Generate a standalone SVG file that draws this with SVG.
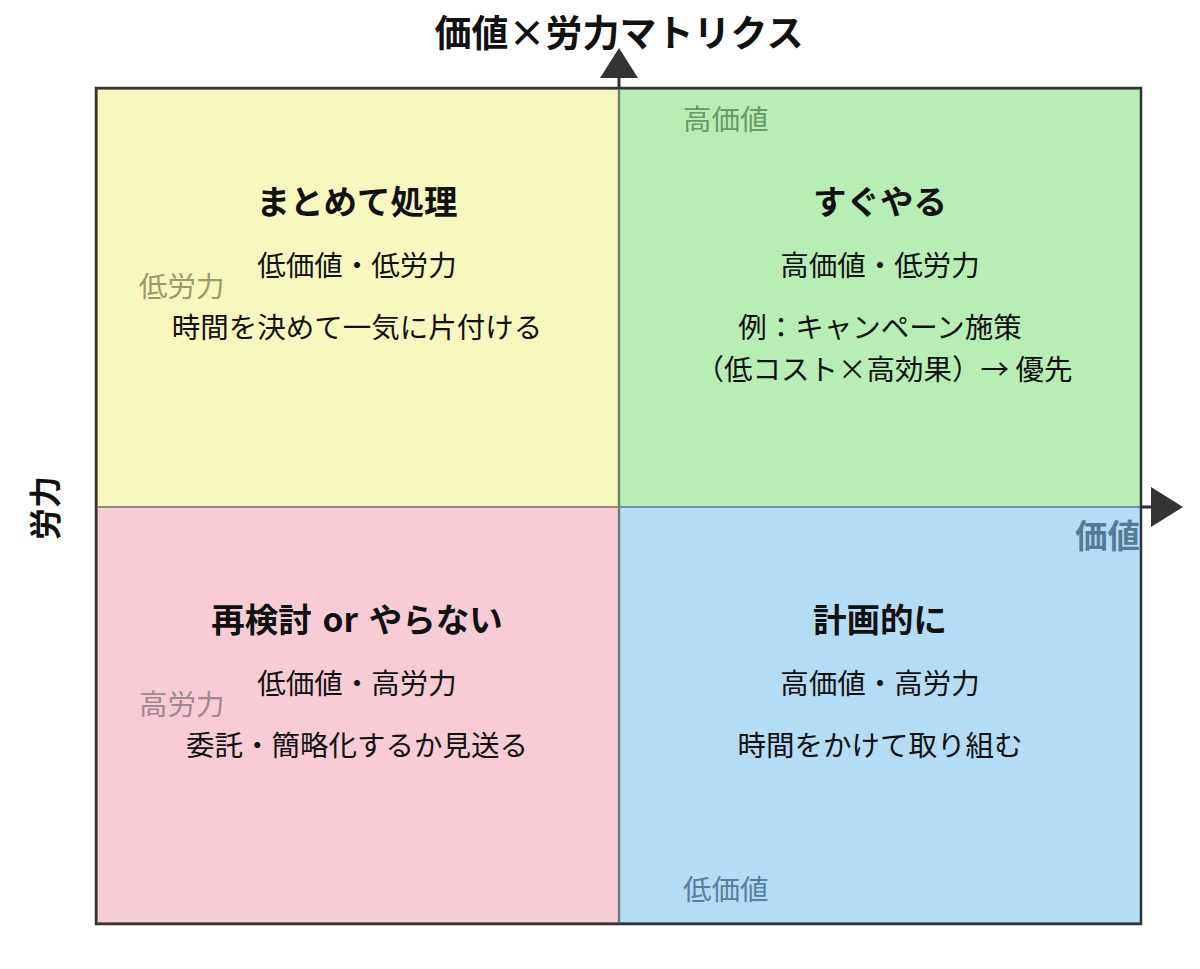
<svg xmlns="http://www.w3.org/2000/svg" width="1200" height="969" viewBox="0 0 1200 969">
<style>
text{font-family:"Noto Sans CJK JP","Noto Sans",sans-serif;dominant-baseline:central}
.t{font-size:33.5px;font-weight:bold;fill:#111;text-anchor:middle}
.b{font-size:28.5px;fill:#111;text-anchor:middle}
.s{font-size:28.5px}
.ax{stroke:#333;stroke-width:3;fill:none}
</style>
<rect width="1200" height="969" fill="#fff"/>
<text x="619" y="31" style="font-size:37px;font-weight:bold;fill:#111;text-anchor:middle">価値×労力マトリクス</text>
<g id="q-batch">
<rect x="97" y="89" width="522" height="418" fill="#f7f8bd" stroke="#9c9c60" stroke-width="2"/>
<text class="t" x="357" y="199">まとめて処理</text>
<text class="b" x="357" y="263">低価値・低労力</text>
<text class="b" x="357" y="325">時間を決めて一気に片付ける</text>
<text class="s" x="139" y="284" fill="#9a9a6c">低労力</text>
</g>
<g id="q-now">
<rect x="619" y="89" width="522" height="418" fill="#b8eeb5" stroke="#7fa87a" stroke-width="2"/>
<text class="t" x="880" y="199">すぐやる</text>
<text class="b" x="880" y="263">高価値・低労力</text>
<text class="b" x="880" y="325">例：キャンペーン施策</text>
<text class="b" x="884" y="367">（低コスト×高効果）→ 優先</text>
<text class="s" x="683" y="117" fill="#6a986a">高価値</text>
</g>
<g id="q-reconsider">
<rect x="97" y="507" width="522" height="416" fill="#f8ccd6" stroke="#a0828a" stroke-width="2"/>
<text class="t" x="357" y="617" style="word-spacing:3px">再検討 or やらない</text>
<text class="b" x="357" y="681">低価値・高労力</text>
<text class="b" x="357" y="743">委託・簡略化するか見送る</text>
<text class="s" x="139" y="702" fill="#a08890">高労力</text>
</g>
<g id="q-plan">
<rect x="619" y="507" width="522" height="416" fill="#b5dcf5" stroke="#6f93b0" stroke-width="2"/>
<text class="t" x="880" y="617">計画的に</text>
<text class="b" x="880" y="681">高価値・高労力</text>
<text class="b" x="880" y="743">時間をかけて取り組む</text>
<text class="s" x="683" y="887" fill="#5a7f9a">低価値</text>
</g>
<g id="connectors">
<rect x="96" y="88" width="1045" height="836" fill="none" stroke="#333" stroke-width="2.5"/>
<line class="ax" x1="619" y1="89" x2="619" y2="78"/>
<line class="ax" x1="1141" y1="507" x2="1151" y2="507"/>
<path d="M600,78L638,78L619,48z" fill="#333"/>
<path d="M1151,487L1151,527L1183,507z" fill="#333"/>
<line x1="619" y1="89" x2="619" y2="923" stroke="#6e7a6e" stroke-width="2.5" opacity="0.8"/>
</g>
<text x="1140" y="533" style="font-size:32.5px;font-weight:bold;fill:#557a96;text-anchor:end">価値</text>
<text transform="translate(43,508) rotate(-90)" style="font-size:32px;font-weight:bold;fill:#111;text-anchor:middle">労力</text>
</svg>
